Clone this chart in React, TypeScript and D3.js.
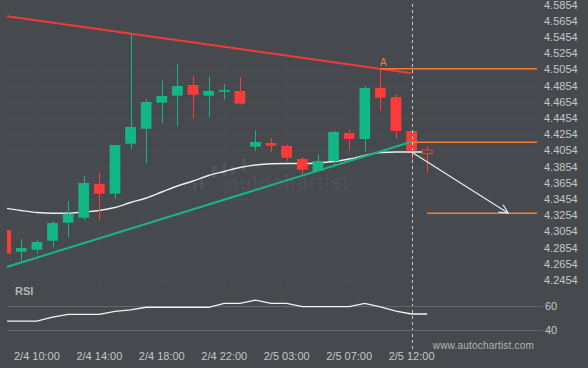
import React, { useEffect, useRef } from "react";
import * as d3 from "d3";

// hourly candles, index 0 is partly cut by the left edge
const opens = [4.3073, 4.2805, 4.2829, 4.294, 4.3163, 4.3224, 4.364, 4.3521, 4.4138, 4.4323, 4.4644, 4.4731, 4.4863, 4.4731, 4.478, 4.4789, 4.4101, 4.4147, 4.411, 4.3949, 4.3801, 4.3924, 4.427, 4.4196, 4.4826, 4.4714, 4.4295, 4.406];
const highs = [4.3073, 4.2961, 4.2949, 4.3184, 4.3431, 4.3739, 4.3776, 4.4122, 4.5492, 4.4686, 4.4912, 4.5122, 4.497, 4.497, 4.4875, 4.4958, 4.4307, 4.4208, 4.4126, 4.3974, 4.4011, 4.4295, 4.4307, 4.485, 4.506, 4.4752, 4.4295, 4.411];
const lows = [4.278, 4.2674, 4.2785, 4.2866, 4.2982, 4.32, 4.3192, 4.3459, 4.4069, 4.3896, 4.439, 4.4353, 4.4447, 4.4464, 4.4681, 4.4619, 4.4044, 4.4032, 4.3924, 4.376, 4.3801, 4.3875, 4.4052, 4.4039, 4.4545, 4.42, 4.3928, 4.3773];
const closes = [4.278, 4.285, 4.2924, 4.3159, 4.3274, 4.3653, 4.3521, 4.4122, 4.4344, 4.4653, 4.4727, 4.485, 4.4743, 4.4789, 4.4801, 4.4632, 4.4159, 4.4113, 4.3965, 4.3817, 4.3924, 4.4282, 4.4196, 4.4826, 4.4706, 4.4295, 4.4052, 4.4015];
const lastOpenIndex = 27; // still forming, drawn hollow

const maValues = [4.3342, 4.3313, 4.3289, 4.3279, 4.3279, 4.3295, 4.3313, 4.335, 4.3412, 4.3468, 4.3542, 4.3616, 4.3677, 4.3745, 4.3795, 4.3844, 4.3875, 4.389, 4.3893, 4.3893, 4.39, 4.3918, 4.3949, 4.3992, 4.4029, 4.4035, 4.4035, 4.4035];
const rsiValues = [47.7, 47.7, 47.7, 51, 53.3, 53.3, 53.3, 55.8, 57, 59.2, 59.2, 59.2, 59.2, 59.2, 62.5, 62.5, 65.2, 62.5, 62.5, 59.7, 59.7, 59.7, 59.7, 62.5, 59.5, 56, 53.6, 53.6];

const priceTicks = [4.5854, 4.5654, 4.5454, 4.5254, 4.5054, 4.4854, 4.4654, 4.4454, 4.4254, 4.4054, 4.3854, 4.3654, 4.3454, 4.3254, 4.3054, 4.2854, 4.2654, 4.2454];
const rsiTicks = [60, 40];
const timeLabels = ["2/4 10:00", "2/4 14:00", "2/4 18:00", "2/4 22:00", "2/5 03:00", "2/5 07:00", "2/5 12:00"];
const timeLabelIndex = [2, 6, 10, 14, 18, 22, 26];

// pattern lines: [index, price]
const resistance = [[0, 4.5715], [26, 4.5007]];
const support = [[0, 4.2612], [26, 4.4163]];
const levelA = 4.5062;
const levelB = 4.4155;
const target = 4.3279;
const forecast = [[26, 4.4035], [32.2, 4.3279]];

const FONT = '"Liberation Sans", Arial, sans-serif';

const App = () => {
  const svgRef = useRef(null);

  useEffect(() => {
    document.body.style.margin = "0";
    const width = 588;
    const height = 368;
    const left = 7;
    const right = 537;

    const svg = d3.select(svgRef.current).attr("width", width).attr("height", height);
    svg.selectAll("*").remove();

    const x = d3.scaleLinear().domain([0, 27]).range([5.7, 427.2]);
    const y = d3.scaleLinear().domain([4.2454, 4.5854]).range([280.1, 4.7]);
    const yRsi = d3.scaleLinear().domain([40, 60]).range([330.3, 306.3]);

    svg.append("rect").attr("width", width).attr("height", height).attr("fill", "#46494e");

    svg.append("clipPath").attr("id", "plot")
      .append("rect").attr("x", left).attr("y", 0).attr("width", right - left).attr("height", 290);

    // faint grid
    const grid = svg.append("g").attr("stroke", "#494c51").attr("stroke-width", 1);
    priceTicks.forEach((t) => {
      grid.append("line").attr("x1", left).attr("x2", right)
        .attr("y1", Math.round(y(t)) + 0.5).attr("y2", Math.round(y(t)) + 0.5);
    });
    timeLabelIndex.forEach((i) => {
      grid.append("line").attr("x1", Math.round(x(i)) + 0.5).attr("x2", Math.round(x(i)) + 0.5)
        .attr("y1", 0).attr("y2", 285);
    });

    // watermark
    const wm = svg.append("g").attr("fill", "#ffffff").attr("fill-opacity", 0.06);
    [[193, 183, 190], [200, 177, 190], [212, 166, 178], [223, 163, 176], [231, 166, 175], [242, 158, 172]]
      .forEach(([bx, t, b]) => wm.append("rect").attr("x", bx).attr("y", t).attr("width", 3.5).attr("height", b - t));
    wm.append("text").attr("x", 227).attr("y", 189)
      .attr("textLength", 121).attr("lengthAdjust", "spacing")
      .style("font-family", FONT).style("font-size", "20px").text("autochartist");

    const plot = svg.append("g").attr("clip-path", "url(#plot)");

    // moving average
    plot.append("path").datum(maValues)
      .attr("fill", "none").attr("stroke", "#eeeeee").attr("stroke-width", 1.4)
      .attr("d", d3.line<number>().x((d, i) => x(i)).y((d) => y(d)).curve(d3.curveMonotoneX));

    // candles
    const bodyW = 10.7;
    opens.forEach((o, i) => {
      const c = closes[i];
      const up = c >= o;
      const col = up ? "#13b784" : "#fd3b3b";
      const cx = Math.round(x(i)) + 0.5;
      plot.append("line").attr("x1", cx).attr("x2", cx)
        .attr("y1", y(highs[i])).attr("y2", y(lows[i]))
        .attr("stroke", col).attr("stroke-width", 1);
      const top = y(Math.max(o, c));
      const h = Math.max(1.5, y(Math.min(o, c)) - top);
      if (i === lastOpenIndex) {
        plot.append("rect").attr("x", x(i) - bodyW / 2 + 0.5).attr("y", top).attr("width", bodyW - 1).attr("height", h)
          .attr("fill", "#46494e").attr("stroke", col).attr("stroke-width", 1);
      } else {
        plot.append("rect").attr("x", x(i) - bodyW / 2).attr("y", top).attr("width", bodyW).attr("height", h).attr("fill", col);
      }
    });

    // trendlines
    plot.append("line")
      .attr("x1", x(resistance[0][0])).attr("y1", y(resistance[0][1]))
      .attr("x2", x(resistance[1][0])).attr("y2", y(resistance[1][1]))
      .attr("stroke", "#f03a3e").attr("stroke-width", 2);
    plot.append("line")
      .attr("x1", x(support[0][0])).attr("y1", y(support[0][1]))
      .attr("x2", x(support[1][0])).attr("y2", y(support[1][1]))
      .attr("stroke", "#17b585").attr("stroke-width", 2);

    // levels
    const orange = "#f77b2e";
    [[24, levelA], [26, levelB], [27, target]].forEach(([i, p]) => {
      svg.append("line").attr("x1", x(i)).attr("x2", right)
        .attr("y1", y(p)).attr("y2", y(p))
        .attr("stroke", orange).attr("stroke-width", 1.5);
    });
    svg.append("text").attr("x", x(24) + 3).attr("y", y(levelA) - 3)
      .attr("text-anchor", "middle").attr("fill", "#e8823c")
      .style("font-family", FONT).style("font-size", "10px").text("A");

    // forecast arrow
    const [fx1, fy1] = [x(forecast[0][0]), y(forecast[0][1])];
    const [fx2, fy2] = [x(forecast[1][0]), y(forecast[1][1])];
    svg.append("line").attr("x1", fx1).attr("y1", fy1).attr("x2", fx2).attr("y2", fy2)
      .attr("stroke", "#ececec").attr("stroke-width", 1.2);
    const ang = Math.atan2(fy2 - fy1, fx2 - fx1);
    [0.45, -0.45].forEach((da) => {
      svg.append("line").attr("x1", fx2).attr("y1", fy2)
        .attr("x2", fx2 - 10 * Math.cos(ang + da)).attr("y2", fy2 - 10 * Math.sin(ang + da))
        .attr("stroke", "#ececec").attr("stroke-width", 1.2);
    });

    // now line
    svg.append("line").attr("x1", Math.round(x(26)) + 0.5).attr("x2", Math.round(x(26)) + 0.5)
      .attr("y1", 4).attr("y2", 351)
      .attr("stroke", "#c8c8c8").attr("stroke-width", 1).attr("stroke-dasharray", "3,3");

    // price axis
    priceTicks.forEach((t) => {
      svg.append("text").attr("x", 544).attr("y", y(t)).attr("dy", "0.35em")
        .attr("fill", "#c6c6c6").style("font-family", FONT).style("font-size", "11px").text(t.toFixed(4));
    });

    // RSI panel
    svg.append("text").attr("x", 15).attr("y", 291).attr("dy", "0.35em")
      .attr("fill", "#b4b4b4").style("font-family", FONT).style("font-size", "11px").style("font-weight", "bold").text("RSI");
    rsiTicks.forEach((t) => {
      svg.append("line").attr("x1", left).attr("x2", 543)
        .attr("y1", Math.round(yRsi(t)) + 0.5).attr("y2", Math.round(yRsi(t)) + 0.5)
        .attr("stroke", "#62656a").attr("stroke-width", 1);
      svg.append("text").attr("x", 545).attr("y", yRsi(t)).attr("dy", "0.35em")
        .attr("fill", "#c6c6c6").style("font-family", FONT).style("font-size", "11px").text(t);
    });
    svg.append("path").datum(rsiValues)
      .attr("fill", "none").attr("stroke", "#f2f2f2").attr("stroke-width", 1.3)
      .attr("d", d3.line<number>().x((d, i) => Math.max(left, x(i))).y((d) => yRsi(d)));

    // time axis
    timeLabels.forEach((lab, k) => {
      svg.append("text").attr("x", x(timeLabelIndex[k])).attr("y", 356).attr("dy", "0.35em")
        .attr("text-anchor", "middle").attr("fill", "#c6c6c6")
        .style("font-family", FONT).style("font-size", "11px").text(lab);
    });

    svg.append("text").attr("x", 534).attr("y", 345).attr("dy", "0.35em")
      .attr("text-anchor", "end").attr("fill", "#b4b4b4").style("letter-spacing", "0.2px")
      .style("font-family", FONT).style("font-size", "10px").text("www.autochartist.com");
  }, []);

  return <svg ref={svgRef} style={{ display: "block" }}></svg>;
};

export default App;
